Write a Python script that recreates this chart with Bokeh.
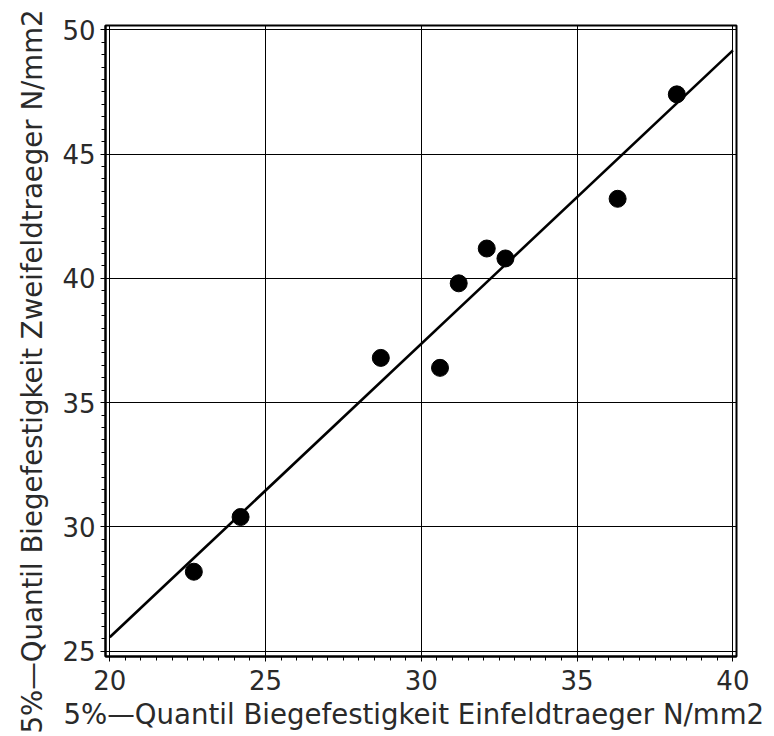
import numpy as np
from bokeh.plotting import figure
from bokeh.models import Range1d, SingleIntervalTicker, ColumnDataSource, Title
from bokeh.embed import file_html
from bokeh.resources import INLINE

# 5%-quantile bending strength: single-span beam (x) vs. two-span beam (y), N/mm2
einfeld = [22.7, 24.2, 28.7, 30.6, 31.2, 32.1, 32.7, 36.3, 38.2]
zweifeld = [28.2, 30.4, 36.8, 36.4, 39.8, 41.2, 40.8, 43.2, 47.4]

x_ticks = [20, 25, 30, 35, 40]
y_ticks = [25, 30, 35, 40, 45, 50]

x_label = "5%\u2014Quantil Biegefestigkeit Einfeldtraeger N/mm2"
y_label = "5%\u2014Quantil Biegefestigkeit Zweifeldtraeger N/mm2"

# least-squares line through the points, drawn across the full x span
slope, intercept = np.polyfit(einfeld, zweifeld, 1)
fit_x = [x_ticks[0], x_ticks[-1]]
fit_y = [intercept + slope * v for v in fit_x]

FONT = "DejaVu Sans"
TEXT_COLOR = "#2a2a2a"

p = figure(
    output_backend="svg",
    toolbar_location=None,
    frame_width=631,
    frame_height=631,
    min_border_left=105,
    min_border_right=38,
    min_border_top=25,
    min_border_bottom=80,
    x_range=Range1d(x_ticks[0] - 0.135, x_ticks[-1] + 0.115),
    y_range=Range1d(y_ticks[0] - 0.21, y_ticks[-1] + 0.17),
    background_fill_color="white",
    border_fill_color="white",
)

p.outline_line_color = "black"
p.outline_line_width = 2
p.outline_line_alpha = 1

for ax in (p.xaxis[0], p.yaxis[0]):
    ax.ticker = SingleIntervalTicker(interval=5, num_minor_ticks=10)
    ax.axis_line_width = 2
    ax.axis_line_color = "black"
    ax.major_tick_in = 0
    ax.major_tick_out = 5
    ax.minor_tick_in = 0
    ax.minor_tick_out = 4
    ax.major_tick_line_color = "black"
    ax.minor_tick_line_color = "black"
    ax.major_tick_line_width = 1
    ax.minor_tick_line_width = 1
    ax.major_label_text_font = FONT
    ax.major_label_text_font_size = "26px"
    ax.major_label_text_color = TEXT_COLOR

p.xaxis.major_label_standoff = 8
p.yaxis.major_label_standoff = 5

p.xgrid.ticker = SingleIntervalTicker(interval=5)
p.ygrid.ticker = SingleIntervalTicker(interval=5)
p.grid.grid_line_color = "black"
p.grid.grid_line_width = 1
p.grid.grid_line_alpha = 1

p.line(fit_x, fit_y, line_color="black", line_width=2.6)

src = ColumnDataSource(dict(x=einfeld, y=zweifeld))
p.scatter("x", "y", source=src, size=17, marker="circle",
          fill_color="black", line_color="black")

# axis titles, started a fixed distance beyond the frame's lower-left corner
p.add_layout(Title(
    text=x_label, align="left", offset=-42, standoff=6,
    text_font=FONT, text_font_size="27.6px", text_font_style="normal",
    text_color=TEXT_COLOR,
), "below")
p.add_layout(Title(
    text=y_label, align="left", offset=-77, standoff=21,
    text_font=FONT, text_font_size="27.6px", text_font_style="normal",
    text_color=TEXT_COLOR,
), "left")

open("out.html", "w").write(file_html(p, INLINE))
